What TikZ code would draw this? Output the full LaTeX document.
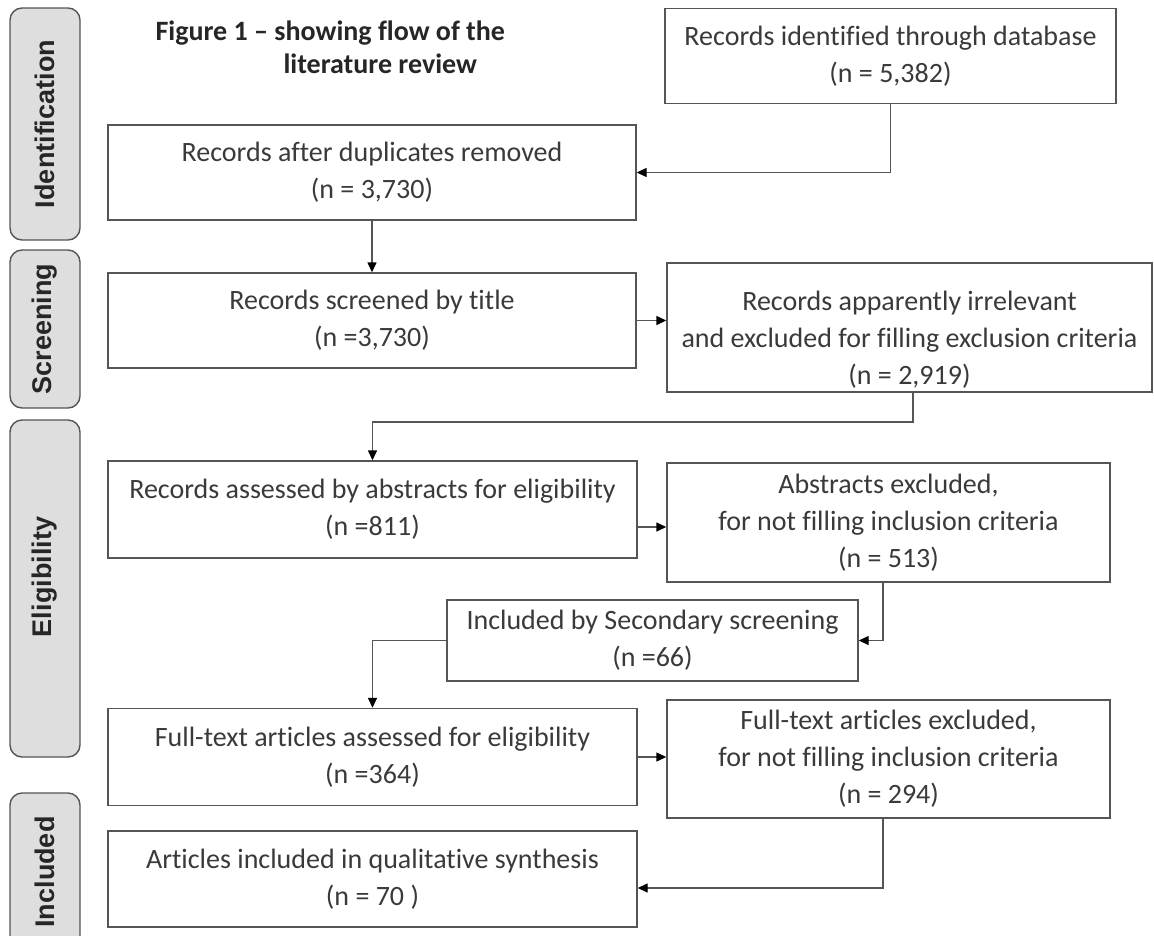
\documentclass[tikz,border=0pt]{standalone}
\usepackage{fontspec}
\setmainfont{Carlito}[Ligatures=NoCommon]
\newfontfamily\tabfont{Liberation Sans}
\usetikzlibrary{arrows.meta,positioning}
\definecolor{txt}{HTML}{3A3A3A}
\definecolor{edge}{HTML}{555555}
\definecolor{tabfill}{HTML}{DEDEDE}
\begin{document}
\begin{tikzpicture}[x=1pt,y=-1pt,
  box/.style={draw=edge, line width=1.4pt, fill=white, inner sep=0pt, align=center,
    text=txt, font=\fontsize{28}{37}\selectfont},
  stage/.style={draw=edge, line width=1.4pt, fill=tabfill, rounded corners=12pt,
    inner sep=0pt, minimum width=70pt},
  stagelbl/.style={rotate=90, text=black!85, font=\tabfont\bfseries\fontsize{27}{30}\selectfont},
  arr/.style={draw=edge, line width=1.4pt, -{Triangle[length=10pt,width=9pt,color=black]}},
  ttl/.style={anchor=base west, text=black!85, font=\bfseries\fontsize{28}{30}\selectfont}]
\clip (0,0) rectangle (1154,935);
\fill[white] (0,0) rectangle (1154,935);

% stage tabs
\node[stage, minimum height=232pt] (tid) at (45,124) {};
\node[stagelbl] (lid) at (45,124) {Identification};
\node[stage, minimum height=158pt] (tsc) at (45,329) {};
\node[stagelbl] (lsc) at (45,329) {Screening};
\node[stage, minimum height=337pt] (tel) at (45,588.5) {};
\node[stagelbl] (lel) at (45,577) {Eligibility};
\node[stage, minimum height=160pt] (tin) at (45,873) {};
\node[stagelbl] (lin) at (45,872) {Included};

% title
\node[ttl] (t1) at (152,40) {Figure 1 -- showing flow of the};
\node[ttl] (t2) at (280,73) {literature review};

% boxes
\node[box, minimum width=451pt, minimum height=95pt] (db) at (890.5,56)
  {Records identified through database\\(n = 5,382)};
\node[box, minimum width=528pt, minimum height=95pt] (dup) at (372,172.5)
  {Records after duplicates removed\\(n = 3,730)};
\node[box, minimum width=528pt, minimum height=95pt] (scr) at (372,320.5)
  {Records screened by title\\(n =3,730)};
\node[box, minimum width=485pt, minimum height=129pt,
  label={[yshift=-12pt, align=center, text=txt, font=\fontsize{28}{37}\selectfont]center:Records apparently irrelevant\\and excluded for filling exclusion criteria\\(n = 2,919)}] (irr) at (909.5,327.5) {};
\node[box, minimum width=529pt, minimum height=97pt] (abs) at (372.5,509.5)
  {Records assessed by abstracts for eligibility\\(n =811)};
\node[box, minimum width=443pt, minimum height=119pt] (absx) at (888.5,522.5)
  {Abstracts excluded,\\for not filling inclusion criteria\\(n = 513)};
\node[box, minimum width=411pt, minimum height=81pt] (sec) at (652.5,640.5)
  {Included by Secondary screening\\(n =66)};
\node[box, minimum width=529pt, minimum height=97pt] (ft) at (372.5,757)
  {Full-text articles assessed for eligibility\\(n =364)};
\node[box, minimum width=443pt, minimum height=118pt] (ftx) at (888.5,759)
  {Full-text articles excluded,\\for not filling inclusion criteria\\(n = 294)};
\node[box, minimum width=529pt, minimum height=96pt] (inc) at (372.5,879)
  {Articles included in qualitative synthesis\\(n = 70 )};

% connectors
\draw[arr] (db.south) |- (dup.east);
\draw[arr] (dup.south) -- (scr.north);
\draw[arr] (scr.east) -- (irr.west |- scr.east);
\draw[arr] (irr.south -| 913,0) |- (372.5,422) -- (abs.north);
\draw[arr] (abs.east |- 0,527) -- (absx.west |- 0,527);
\draw[arr] (absx.south -| 883,0) |- (sec.east);
\draw[arr] (sec.west) -| (ft.north);
\draw[arr] (ft.east) -- (ftx.west |- ft.east);
\draw[arr] (ftx.south -| 883,0) |- (inc.east |- 0,888);
\end{tikzpicture}
\end{document}
